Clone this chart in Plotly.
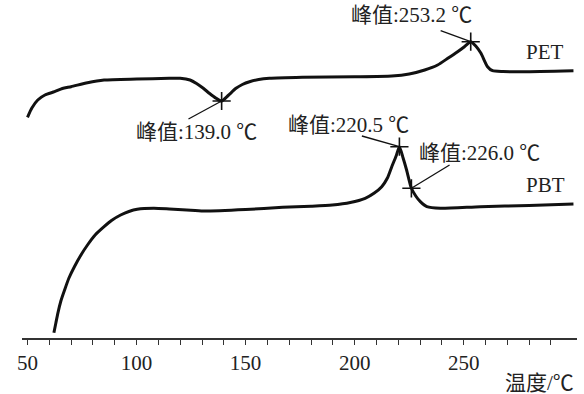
import plotly.graph_objects as go

# ---- data (temperature in °C, heat flow in arbitrary units) ----
PET_T = [50, 52.0, 54.7, 58.0, 62.4, 66.0, 70, 77.5, 85.1, 100.1, 115.0, 120, 124.5, 127.5, 130.6,
         133.5, 136.5, 139.0, 142.0, 145.6, 148.5, 151.8, 156.0, 160.9, 176, 200.0, 217, 225.0,
         232.1, 238.0, 242.7, 247.0, 250.3, 253.2, 255.5, 257.9, 260.9, 263.2, 268.0, 277.5, 300.3]
PET_Q = [22.07, 23.0, 23.8, 24.3, 24.63, 24.95, 25.13, 25.53, 25.8, 25.9, 25.97, 25.97, 25.8, 25.45,
         24.97, 24.45, 23.97, 23.7, 24.25, 24.97, 25.35, 25.63, 25.85, 25.97, 26.07, 26.12, 26.2, 26.4,
         26.8, 27.3, 27.97, 28.6, 29.13, 29.63, 29.2, 28.47, 27.13, 26.73, 26.65, 26.63, 26.73]

PBT_T = [62.1, 63.0, 63.9, 65.3, 67, 69.0, 71.5, 74.5, 77.5, 81.0, 85.1, 88.5, 92.7, 96.5, 100.3,
         107.9, 115.0, 123, 130.6, 150.0, 167, 180.0, 189.7, 198.0, 204.8, 209.0, 212.4, 215.0, 217,
         219.0, 220.5, 222.2, 223.8, 226.0, 228.0, 230.1, 233.1, 239.3, 257.6, 280.0, 300.3]
PBT_Q = [0.53, 1.5, 2.47, 3.7, 4.8, 6.0, 7.13, 8.3, 9.3, 10.3, 11.13, 11.75, 12.3, 12.65, 12.87,
         12.97, 12.9, 12.8, 12.7, 12.85, 13.07, 13.18, 13.3, 13.55, 13.97, 14.5, 15.13, 16.0, 17.13,
         18.2, 19.13, 18.0, 16.8, 14.97, 14.2, 13.63, 13.13, 12.97, 13.13, 13.25, 13.4]

PEAK_T = [139.0, 253.2, 220.5, 226.0]
PEAK_Q = [23.7, 29.63, 19.13, 14.97]
PEAK_TEXT = ["峰值:139.0 ℃", "峰值:253.2 ℃", "峰值:220.5 ℃", "峰值:226.0 ℃"]

SERIES_NAMES = ["PET", "PBT"]
TICK_VALUES = list(range(50, 300, 10))
TICK_LABELS = [str(v) if v % 50 == 0 else "" for v in TICK_VALUES]
X_TITLE = "温度/℃"

# ---- layout / positions (not data) ----
W, H = 584, 394
FONT = "Liberation Serif, Times New Roman, Noto Sans CJK SC, serif"
FS = 21
LABEL_POS = [(127.6, 20.6), (226.0, 32.3), (197.2, 21.3), (257.1, 18.5)]
LEADER_START = [(123.8, 21.9), (239.4, 30.73), (203.3, 20.2), (243.5, 17.3)]
NAME_POS = [(287.4, 28.6), (287.4, 15.3)]

fig = go.Figure()
for t, q in [(PET_T, PET_Q), (PBT_T, PBT_Q)]:
    fig.add_trace(go.Scatter(x=t, y=q, mode="lines",
                             line=dict(color="#111111", width=3, shape="spline", smoothing=0.6),
                             hoverinfo="skip", showlegend=False))

fig.add_trace(go.Scatter(x=PEAK_T, y=PEAK_Q, mode="markers",
                         marker=dict(symbol="cross-thin", size=13,
                                     line=dict(color="#111111", width=1.6)),
                         showlegend=False, hoverinfo="skip"))

shapes = []
annotations = []
for (lx, ly), (sx, sy), pt, pq, txt in zip(LABEL_POS, LEADER_START, PEAK_T, PEAK_Q, PEAK_TEXT):
    shapes.append(dict(type="line", xref="x", yref="y", x0=sx, y0=sy, x1=pt, y1=pq,
                       line=dict(color="#111111", width=1.3)))
    annotations.append(dict(x=lx, y=ly, xref="x", yref="y", text=txt, showarrow=False,
                            font=dict(family=FONT, size=FS, color="#222222")))
for (nx, ny), name in zip(NAME_POS, SERIES_NAMES):
    annotations.append(dict(x=nx, y=ny, xref="x", yref="y", text=name, showarrow=False,
                            font=dict(family=FONT, size=FS, color="#222222")))
annotations.append(dict(x=576 / W, y=1 - 383 / H, xref="paper", yref="paper", text=X_TITLE,
                        showarrow=False, xanchor="right", yanchor="middle",
                        font=dict(family=FONT, size=FS, color="#222222")))

fig.update_layout(
    width=W, height=H,
    margin=dict(l=0, r=0, t=0, b=0),
    paper_bgcolor="white", plot_bgcolor="white",
    shapes=shapes, annotations=annotations,
    xaxis=dict(domain=[17 / W, 577 / W], range=[47.41, 301.95],
               showline=True, linecolor="#333333", linewidth=1.6,
               ticks="outside", ticklen=5, tickwidth=1.3, tickcolor="#333333",
               tickmode="array", tickvals=TICK_VALUES, ticktext=TICK_LABELS,
               tickfont=dict(family=FONT, size=FS, color="#222222"),
               showgrid=False, zeroline=False, fixedrange=True),
    yaxis=dict(domain=[56 / H, 1], range=[0, 33.8], visible=False, fixedrange=True),
)

fig.write_html("out.html", config={"displayModeBar": False},
               post_script="document.body.style.margin='0';document.body.style.overflow='hidden';")
